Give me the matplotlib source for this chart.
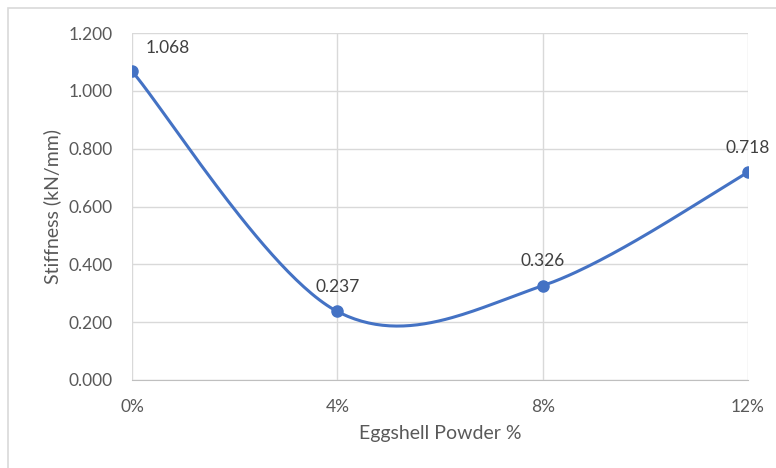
import numpy as np
import matplotlib.pyplot as plt
from matplotlib.patches import Rectangle

powder_pct = [0, 4, 8, 12]
stiffness = [1.068, 0.237, 0.326, 0.718]
x_ticklabels = ['0%', '4%', '8%', '12%']
y_ticks = [0.0, 0.2, 0.4, 0.6, 0.8, 1.0, 1.2]

blue = '#4472c4'
txt = '#595959'
plt.rcParams['font.family'] = ['Lato', 'DejaVu Sans']


def smooth_curve(xs, ys, n=60):
    # Excel-style smoothed line (Bezier through points, tension 1/6)
    pts = np.column_stack([xs, ys]).astype(float)
    out = []
    for i in range(len(pts) - 1):
        p0 = pts[max(i - 1, 0)]
        p1 = pts[i]
        p2 = pts[i + 1]
        p3 = pts[min(i + 2, len(pts) - 1)]
        c1 = p1 + (p2 - p0) / 6
        c2 = p2 - (p3 - p1) / 6
        t = np.linspace(0, 1, n)[:, None]
        seg = ((1 - t) ** 3 * p1 + 3 * (1 - t) ** 2 * t * c1
               + 3 * (1 - t) * t ** 2 * c2 + t ** 3 * p2)
        out.append(seg if i == 0 else seg[1:])
    out = np.vstack(out)
    return out[:, 0], out[:, 1]


fig = plt.figure(figsize=(7.76, 4.68), dpi=100)
fig.patches.append(Rectangle((8 / 776, -0.1), 1.2, 1.1 - 8 / 468,
                             transform=fig.transFigure, fill=False,
                             edgecolor='#d9d9d9', lw=1.2))
ax = fig.add_axes([132 / 776, 1 - 380 / 468, 616 / 776, 347 / 468])

sx, sy = smooth_curve(powder_pct, stiffness)
ax.plot(sx, sy, color=blue, lw=2.2, zorder=3)
ax.plot(powder_pct, stiffness, 'o', color=blue, ms=8, zorder=4)

offsets = [(26, 11), (0, 12), (0, 12), (0, 12)]
for x, y, off in zip(powder_pct, stiffness, offsets):
    ax.annotate(f'{y:.3f}', (x, y), xytext=off, textcoords='offset points',
                ha='center', va='bottom', fontsize=12.5, color='#404040')

ax.set_xlim(0, 12)
ax.set_ylim(0, 1.2)
ax.set_xticks(powder_pct)
ax.set_xticklabels(x_ticklabels)
ax.set_yticks(y_ticks)
ax.set_yticklabels([f'{v:.3f}' for v in y_ticks])
ax.grid(True, color='#d9d9d9', lw=1)
ax.set_axisbelow(True)
for s in ['top', 'right', 'left']:
    ax.spines[s].set_visible(False)
ax.spines['bottom'].set_color('#bfbfbf')
ax.tick_params(length=0, labelsize=12.5, colors=txt)
ax.tick_params(axis='x', pad=14)
ax.tick_params(axis='y', pad=14)

ax.set_xlabel('Eggshell Powder %', fontsize=14, color=txt, labelpad=7)
ax.set_ylabel('Stiffness (kN/mm)', fontsize=14, color=txt, labelpad=5)

plt.savefig('out.png', dpi=100)
